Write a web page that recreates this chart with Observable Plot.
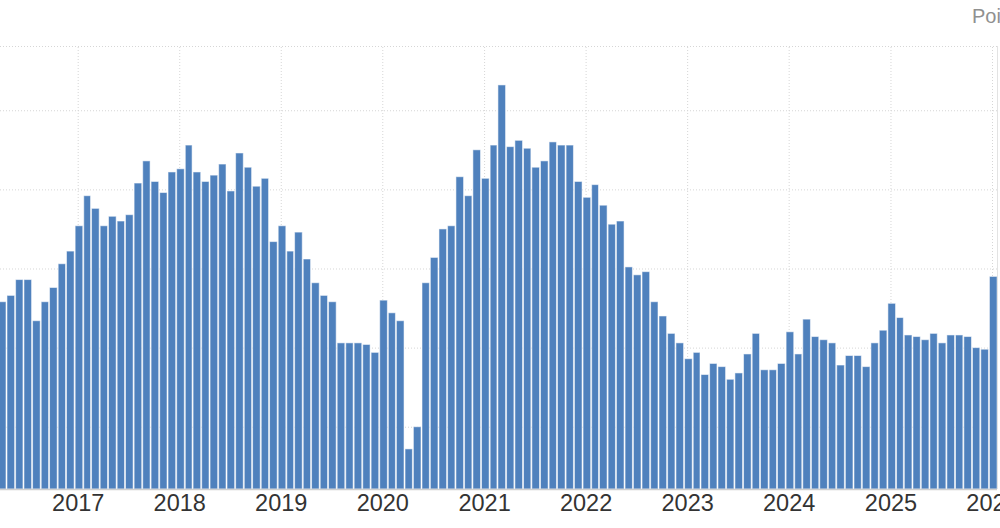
<!DOCTYPE html>
<html>
<head>
<meta charset="utf-8">
<script src="https://cdn.jsdelivr.net/npm/d3@7"></script>
<script src="https://cdn.jsdelivr.net/npm/@observablehq/plot@0.6"></script>
<style>
  html, body { margin: 0; padding: 0; background: #fff; overflow: hidden; width: 1000px; height: 528px; }
  #header { position: relative; height: 45px; width: 1000px; overflow: hidden; }
  #unit { position: absolute; left: 972px; top: 6px; font: 20px/20px "Liberation Sans", Arial, sans-serif; color: #909090; white-space: nowrap; }
  #chart svg { display: block; }
</style>
</head>
<body>
<div id="header"><span id="unit">Points</span></div>
<div id="chart"></div>
<script>
// Monthly index values (points)
const pmi2016 = [50.9, 51.3, 52.3, 52.3, 49.7, 50.9, 51.8, 53.3, 54.1];            // Apr–Dec
const pmi2017 = [55.7, 57.6, 56.8, 55.7, 56.3, 56.0, 56.4, 58.4, 59.8, 58.5, 57.8, 59.1];
const pmi2018 = [59.3, 60.8, 59.1, 58.5, 58.9, 59.6, 57.9, 60.3, 59.4, 58.2, 58.7, 54.7];
const pmi2019 = [55.7, 54.1, 55.3, 53.6, 52.1, 51.3, 50.9, 48.3, 48.3, 48.3, 48.2, 47.7];
const pmi2020 = [51.0, 50.2, 49.7, 41.6, 43.0, 52.1, 53.7, 55.5, 55.7, 58.8, 57.6, 60.5];
const pmi2021 = [58.7, 60.8, 64.6, 60.7, 61.1, 60.6, 59.4, 59.8, 61.0, 60.8, 60.8, 58.5];
const pmi2022 = [57.5, 58.3, 57.0, 55.8, 56.0, 53.1, 52.6, 52.8, 50.9, 50.0, 48.9, 48.3];
const pmi2023 = [47.3, 47.7, 46.3, 47.0, 46.8, 46.0, 46.4, 47.6, 48.9, 46.6, 46.6, 47.0];
const pmi2024 = [49.0, 47.6, 49.8, 48.7, 48.5, 48.3, 46.9, 47.5, 47.5, 46.8, 48.3, 49.1];
const pmi2025 = [50.8, 49.9, 48.8, 48.7, 48.5, 48.9, 48.3, 48.8, 48.8, 48.7, 48.0, 47.9];
const pmi2026 = [52.5];                                                              // Jan

const seriesByYear = [
  [2016, 3, pmi2016], [2017, 0, pmi2017], [2018, 0, pmi2018], [2019, 0, pmi2019],
  [2020, 0, pmi2020], [2021, 0, pmi2021], [2022, 0, pmi2022], [2023, 0, pmi2023],
  [2024, 0, pmi2024], [2025, 0, pmi2025], [2026, 0, pmi2026]
];

// Year tick labels on the x axis
const tickYears = [2017, 2018, 2019, 2020, 2021, 2022, 2023, 2024, 2025, 2026];
// Horizontal grid levels
const gridLevels = [43, 48, 53, 58, 63];

const data = [];
for (const [year, firstMonth, vals] of seriesByYear) {
  vals.forEach((v, i) => data.push({ date: new Date(Date.UTC(year, firstMonth + i, 1)), value: v }));
}

// Layout
const W = 1000, H = 483, mTop = 1, mBottom = 39, mLeft = 0, mRight = 3;
const yDomain = [39.066, 67.06];
const t17 = Date.UTC(2017, 0, 1), t26 = Date.UTC(2026, 0, 1);
const msPerPx = (t26 - t17) / (992 - 77.7);
const xDomain = [new Date(t17 - 77.7 * msPerPx), new Date(t26 + 5 * msPerPx)];
const DAY = 864e5;
const shift = 11 * DAY;

const grid = { stroke: "#d6d6d6", strokeOpacity: 1, strokeDasharray: "1,2", strokeWidth: 1 };

const chart = Plot.plot({
  width: W, height: H,
  marginTop: mTop, marginBottom: mBottom, marginLeft: mLeft, marginRight: mRight,
  style: { fontFamily: "'Liberation Sans', Arial, sans-serif", background: "#fff", overflow: "hidden" },
  x: { type: "utc", domain: xDomain },
  y: { domain: yDomain, axis: null },
  marks: [
    Plot.ruleY(gridLevels, grid),
    Plot.ruleY([yDomain[1]], grid),
    Plot.ruleX(tickYears.map(y => new Date(Date.UTC(y, 0, 1))), { ...grid, y1: yDomain[0], y2: yDomain[1] }),
    Plot.rect(data, {
      x1: d => new Date(+d.date - shift),
      x2: d => new Date(Date.UTC(d.date.getUTCFullYear(), d.date.getUTCMonth() + 1, 1) - shift),
      y1: yDomain[0],
      y2: "value",
      fill: "#4f81bd",
      stroke: "#ffffff",
      strokeOpacity: 0.55,
      strokeWidth: 1,
      insetLeft: 0.5,
      insetRight: 0.5
    }),
    Plot.ruleY([yDomain[0]], { stroke: "#cfcfcf", strokeWidth: 1.5 }),
    Plot.ruleX([xDomain[1]], { stroke: "#e3e3e3", strokeWidth: 1, y1: yDomain[0], y2: yDomain[1] }),
    Plot.axisX(tickYears.map(y => new Date(Date.UTC(y, 0, 1))), {
      tickSize: 0,
      tickPadding: 5,
      tickFormat: d => String(d.getUTCFullYear()),
      fontSize: 23.5,
      fill: "#333"
    })
  ]
});
document.getElementById("chart").appendChild(chart);
</script>
</body>
</html>
